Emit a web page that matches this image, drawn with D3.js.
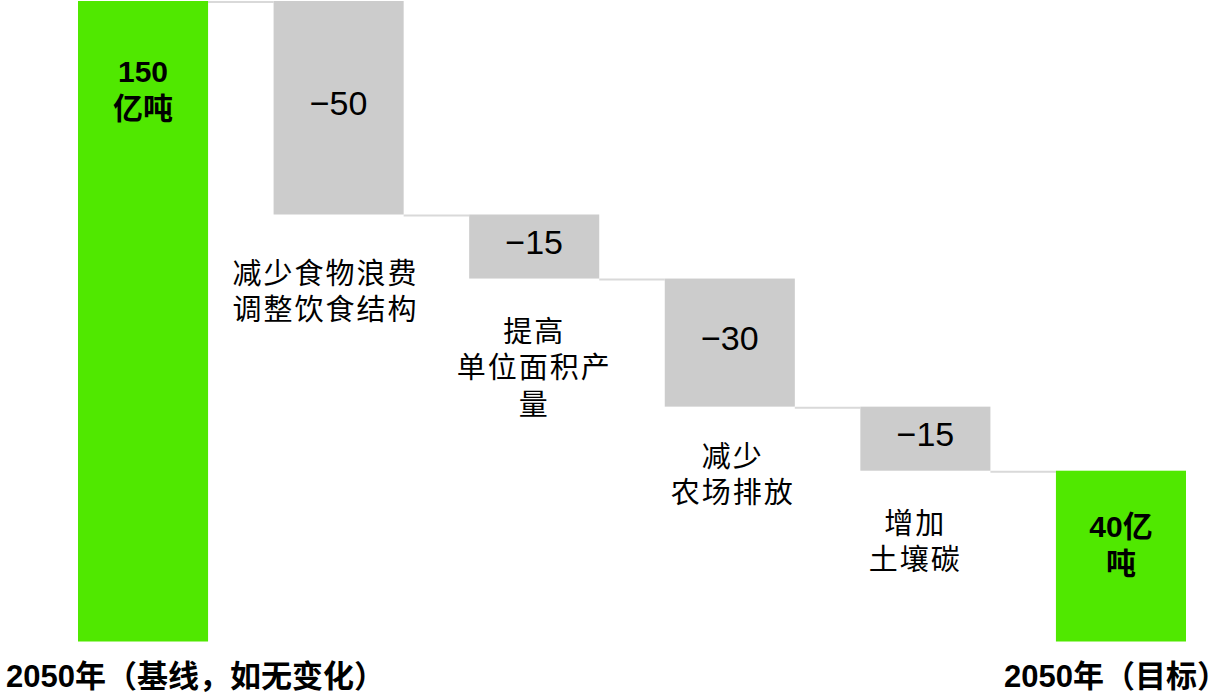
<!DOCTYPE html>
<html>
<head>
<meta charset="utf-8">
<script src="https://cdn.jsdelivr.net/npm/d3@7"></script>
<style>
  html, body { margin: 0; padding: 0; background: #fff; }
  svg { display: block; }
</style>
</head>
<body>
<svg id="chart" width="1212" height="694"></svg>
<script>
// ---- data ----
const steps = ["基线", "食物", "产量", "农场", "土壤", "目标"];
const values = [150, -50, -15, -30, -15, 40];
const kinds = ["total", "delta", "delta", "delta", "delta", "total"];
const valueLabels = [["150", "亿吨"], ["−50"], ["−15"], ["−30"], ["−15"], ["40亿", "吨"]];
const categoryLines = [[], ["减少食物浪费", "调整饮食结构"], ["提高", "单位面积产", "量"], ["减少", "农场排放"], ["增加", "土壤碳"], []];
const axisLabels = ["2050年（基线，如无变化）", "2050年（目标）"];

// ---- layout (positions / styles) ----
const W = 1212, H = 694;
const svg = d3.select("#chart");
const FONT = "'Liberation Sans', Arial, 'Noto Sans CJK SC', sans-serif";
const GREEN = "#50e800", GREY = "#cccccc", LINE = "#d9d9d9";
const catNudge = { "食物": [-13, 59], "产量": [0, 53], "农场": [3, 50], "土壤": [-10, 53] };

const x = d3.scaleBand().domain(steps).range([78, 1186]).paddingInner(0.335).paddingOuter(0);
const y = d3.scaleLinear().domain([0, 150]).range([641.5, 1]);

// compute waterfall extents
let running = 0;
const bars = steps.map((s, i) => {
  let lo, hi;
  if (kinds[i] === "total") { lo = 0; hi = values[i]; running = values[i]; }
  else { hi = running; lo = running + values[i]; running = lo; }
  return { step: s, i, lo, hi, kind: kinds[i], end: running };
});

// connectors
const conn = svg.append("g");
bars.slice(0, -1).forEach((b, i) => {
  const level = b.kind === "total" ? b.hi : b.lo;
  conn.append("line")
    .attr("x1", x(b.step) + x.bandwidth()).attr("x2", x(bars[i + 1].step))
    .attr("y1", y(level) + 1).attr("y2", y(level) + 1)
    .attr("stroke", LINE).attr("stroke-width", 2);
});

// bars
svg.append("g").selectAll("rect").data(bars).join("rect")
  .attr("x", d => x(d.step))
  .attr("width", x.bandwidth())
  .attr("y", d => y(d.hi))
  .attr("height", d => y(d.lo) - y(d.hi))
  .attr("fill", d => d.kind === "total" ? GREEN : GREY);

// value labels
const vl = svg.append("g").attr("font-family", FONT).attr("fill", "#000").attr("text-anchor", "middle");
bars.forEach(b => {
  const cx = x(b.step) + x.bandwidth() / 2;
  const lines = valueLabels[b.i];
  if (b.kind === "total") {
    let top;
    if (b.i === 0) top = y(b.hi) + 70;
    else top = (y(b.hi) + y(b.lo)) / 2 - 30;
    lines.forEach((t, k) => {
      vl.append("text").attr("x", cx).attr("y", top + k * 37)
        .attr("dominant-baseline", "central")
        .attr("font-size", 30).attr("font-weight", "bold").text(t);
    });
  } else {
    const cy = (y(b.hi) + y(b.lo)) / 2 - 5;
    vl.append("text").attr("x", cx).attr("y", cy)
      .attr("dominant-baseline", "central")
      .attr("font-size", 34).text(lines[0]);
  }
});

// category labels under delta bars
const cl = svg.append("g").attr("font-family", FONT).attr("fill", "#000").attr("text-anchor", "middle");
bars.forEach(b => {
  const lines = categoryLines[b.i];
  if (!lines.length) return;
  const [dx, dy] = catNudge[b.step];
  const cx = x(b.step) + x.bandwidth() / 2 + dx;
  const top = y(b.lo) + dy;
  lines.forEach((t, k) => {
    cl.append("text").attr("x", cx).attr("y", top + k * 36.5)
      .attr("dominant-baseline", "central")
      .attr("font-size", 29).attr("letter-spacing", 2).text(t);
  });
});

// bottom axis labels
const al = svg.append("g").attr("font-family", FONT).attr("fill", "#000")
  .attr("font-size", 31).attr("font-weight", "bold");
al.append("text").attr("x", 6).attr("y", 687).attr("text-anchor", "start").text(axisLabels[0]);
al.append("text").attr("x", 1004).attr("y", 687).attr("text-anchor", "start").text(axisLabels[1]);
</script>
</body>
</html>
